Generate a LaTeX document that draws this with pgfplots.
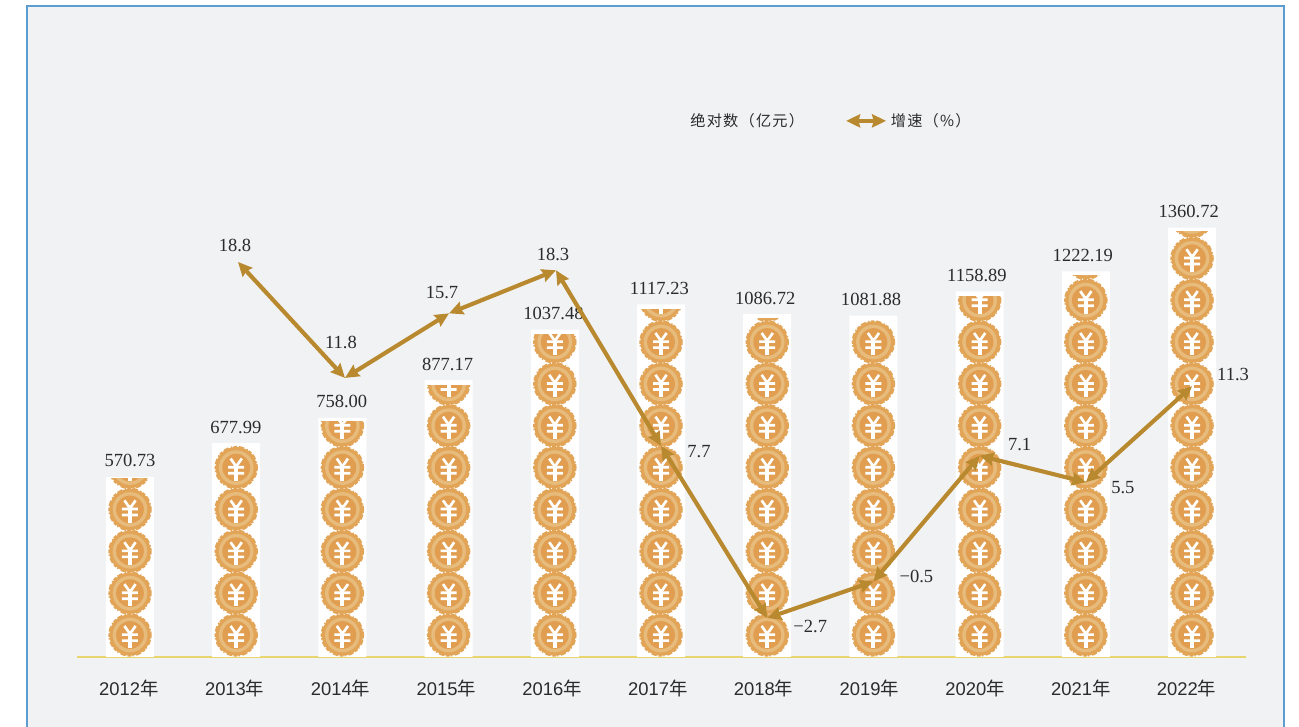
\documentclass[border=0pt]{standalone}
\usepackage{pgfplots}
\pgfplotsset{compat=1.18}
\usepackage{pgfplotstable}
\usepackage{fontspec}
\usetikzlibrary{arrows.meta}
\setmainfont{Liberation Serif}
\newfontfamily\arial{Liberation Sans}
\newfontfamily\cjk[LetterSpace=8]{Noto Sans CJK SC}
\newfontfamily\cjkt{Noto Sans CJK SC}
\definecolor{bgc}{HTML}{F1F2F4}
\definecolor{framec}{HTML}{5B9DD0}
\definecolor{basec}{HTML}{E8D56E}
\definecolor{linec}{HTML}{B8892F}
\definecolor{coinA}{HTML}{E2A558}
\definecolor{coinB}{HTML}{E6BB7C}
\definecolor{coinC}{HTML}{E19E50}
\definecolor{txtc}{HTML}{2B2B2B}
\def\coinbody{%
  \pgfsetfillcolor{coinA}\pgfpathcircle{\pgfpointorigin}{15.5pt}\pgfusepath{fill}%
  \pgfsetstrokecolor{coinA}\pgfsetlinewidth{1.2pt}\pgfsetdash{{2.6pt}{1pt}{1pt}{2pt}{4pt}{1.4pt}}{0pt}%
  \pgfpathcircle{\pgfpointorigin}{15.7pt}\pgfusepath{stroke}\pgfsetdash{}{0pt}%
  \pgfsetfillcolor{coinB}\pgfpathcircle{\pgfpointorigin}{13pt}\pgfusepath{fill}%
  \pgfsetfillcolor{coinC}\pgfpathcircle{\pgfpointorigin}{10.4pt}\pgfusepath{fill}%
  \pgfsetstrokecolor{white}\pgfsetlinewidth{2pt}\pgfsetbuttcap
  \pgfpathmoveto{\pgfpoint{-4.2pt}{6.8pt}}\pgfpathlineto{\pgfpoint{-1pt}{2.2pt}}%
  \pgfpathmoveto{\pgfpoint{4.2pt}{6.8pt}}\pgfpathlineto{\pgfpoint{1pt}{2.2pt}}%
  \pgfpathmoveto{\pgfpoint{-6pt}{0.3pt}}\pgfpathlineto{\pgfpoint{6pt}{0.3pt}}%
  \pgfpathmoveto{\pgfpoint{-6pt}{-4.2pt}}\pgfpathlineto{\pgfpoint{6pt}{-4.2pt}}%
  \pgfusepath{stroke}%
  \pgfsetlinewidth{3pt}\pgfpathmoveto{\pgfpoint{0pt}{3pt}}\pgfpathlineto{\pgfpoint{0pt}{-10pt}}\pgfusepath{stroke}}
\pgfdeclareplotmark{coin}{\coinbody}
\pgfdeclareplotmark{coinclip}{%
  \pgfmathsetlengthmacro\cliph{18pt+\clipH*0.75pt}%
  \pgfpathrectangle{\pgfpoint{-18pt}{-18pt}}{\pgfpoint{36pt}{\cliph}}\pgfusepath{clip}\coinbody}
\pgfplotstableread{
x y
0 69.7
0 202.4
0 335.0
0 467.7
1 69.7
1 202.4
1 335.0
1 467.7
1 600.3
2 69.7
2 202.4
2 335.0
2 467.7
2 600.3
3 69.7
3 202.4
3 335.0
3 467.7
3 600.3
3 733.0
4 69.7
4 202.4
4 335.0
4 467.7
4 600.3
4 733.0
4 865.6
5 69.7
5 202.4
5 335.0
5 467.7
5 600.3
5 733.0
5 865.6
5 998.3
6 69.7
6 202.4
6 335.0
6 467.7
6 600.3
6 733.0
6 865.6
6 998.3
7 69.7
7 202.4
7 335.0
7 467.7
7 600.3
7 733.0
7 865.6
7 998.3
8 69.7
8 202.4
8 335.0
8 467.7
8 600.3
8 733.0
8 865.6
8 998.3
9 69.7
9 202.4
9 335.0
9 467.7
9 600.3
9 733.0
9 865.6
9 998.3
9 1130.9
10 69.7
10 202.4
10 335.0
10 467.7
10 600.3
10 733.0
10 865.6
10 998.3
10 1130.9
10 1263.6
}\coins
\pgfplotstableread{
x y
0 570.73
1 677.99
2 758.00
3 877.17
4 1037.48
5 1117.23
6 1086.72
7 1081.88
8 1158.89
9 1222.19
10 1360.72
}\absv
\tikzset{dbl/.style={line width=3.1pt,color=linec,{Stealth[length=10.5pt,width=9.8pt,inset=1.2pt]}-{Stealth[length=10.5pt,width=9.8pt,inset=1.2pt]}}}
\newcommand\partcoin[3]{\addplot[only marks,mark=coinclip,/utils/exec={\def\clipH{#3}}] coordinates {(#1,#2)};}
\newcommand\seg[4]{\addplot[dbl,no marks,forget plot] coordinates {(#1,#2) (#3,#4)};}
\newcommand\ratelab[5]{\addplot[only marks,mark=none,forget plot,nodes near coords={#5},
  nodes near coords style={font=\fontsize{13.9}{15}\selectfont,text=txtc,anchor=center,xshift=#3*0.75pt,yshift=#4*0.75pt}] coordinates {(#1,#2)};}
\begin{document}
\begin{tikzpicture}
\useasboundingbox (0,0) rectangle (974.25pt,545.25pt);
\fill[white] (0,0) rectangle (974.25pt,545.25pt);
\filldraw[fill=bgc,draw=framec,line width=1.7pt] (20.25pt,-5pt) rectangle (963pt,540.75pt);
\begin{axis}[
  at={(57.75pt,52.5pt)},anchor=south west,
  scale only axis,width=876.75pt,height=447.75pt,
  xmin=-0.499,xmax=10.508,ymin=0,ymax=1892.2,
  clip=false,
  axis x line*=bottom,axis y line=none,
  axis line style={color=basec,line width=1.5pt,-},
  major tick length=0pt,
  xtick={-0.019,0.977,1.973,2.969,3.965,4.961,5.956,6.952,7.948,8.944,9.940},
  xticklabels={2012{\cjkt 年},2013{\cjkt 年},2014{\cjkt 年},2015{\cjkt 年},2016{\cjkt 年},2017{\cjkt 年},2018{\cjkt 年},2019{\cjkt 年},2020{\cjkt 年},2021{\cjkt 年},2022{\cjkt 年}},
  xticklabel style={font=\arial\fontsize{13.8}{15}\selectfont,text=txtc,yshift=-23.5pt,xshift=0.7pt,anchor=center},
]
\addplot[ybar,bar width=36pt,fill=white,draw=none,
  visualization depends on={rawx \as \rx},
  nodes near coords,
  nodes near coords style={font=\fontsize{13.9}{15}\selectfont,text=txtc,anchor=center,yshift=12pt,xshift=-0.25*\rx*1pt},
  /pgf/number format/fixed,/pgf/number format/fixed zerofill,/pgf/number format/precision=2,/pgf/number format/assume math mode=true,/pgf/number format/1000 sep={}] table[x=x,y=y] {\absv};
\addplot[only marks,mark=coin] table[x=x,y=y] {\coins};
\partcoin{0}{600.3}{-11.4}
\partcoin{2}{733.0}{4}
\partcoin{3}{865.6}{-1.2}
\partcoin{4}{998.3}{8}
\partcoin{5}{1130.9}{-9}
\partcoin{6}{1130.9}{-18}
\partcoin{8}{1130.9}{4}
\partcoin{9}{1263.6}{-17.2}
\partcoin{10}{1396.2}{-15.5}
\end{axis}
\begin{axis}[
  at={(57.75pt,52.5pt)},anchor=south west,
  scale only axis,width=876.75pt,height=447.75pt,
  xmin=-0.499,xmax=10.508,ymin=-5.054,ymax=31.0,
  clip=false,hide axis,
  legend columns=2,
  legend style={at={(0.6445,0.898)},anchor=center,draw=none,fill=none,
    font=\cjk\fontsize{11.4}{13}\selectfont,text=txtc,
    /tikz/every even column/.append style={column sep=28pt}},
]
\addlegendimage{legend image code/.code={}}
\addlegendentry{绝对数（亿元）}
\addlegendimage{legend image code/.code={\draw[dbl] (0,0) -- (30pt,0);}}
\addlegendentry{增速（\%）}
\seg{1.017}{18.8}{2.024}{11.8}
\seg{2.024}{11.8}{3.004}{15.7}
\seg{3.004}{15.7}{4.011}{18.3}
\seg{4.011}{18.3}{5}{7.7}
\seg{5}{7.7}{6}{-2.7}
\seg{6}{-2.7}{7}{-0.5}
\seg{7}{-0.5}{8}{7.1}
\seg{8}{7.1}{9}{5.5}
\seg{9}{5.5}{10}{11.3}
\ratelab{1.017}{18.8}{-3}{17}{18.8}
\ratelab{2.024}{11.8}{-4}{35}{11.8}
\ratelab{3.004}{15.7}{-7}{21}{15.7}
\ratelab{4.011}{18.3}{-3}{16}{18.3}
\ratelab{5}{7.7}{38}{-6}{7.7}
\ratelab{6}{-2.7}{43}{-8}{−2.7}
\ratelab{7}{-0.5}{43}{5}{−0.5}
\ratelab{8}{7.1}{40}{11}{7.1}
\ratelab{9}{5.5}{37}{-5}{5.5}
\ratelab{10}{11.3}{41}{12}{11.3}
\end{axis}
\end{tikzpicture}
\end{document}
